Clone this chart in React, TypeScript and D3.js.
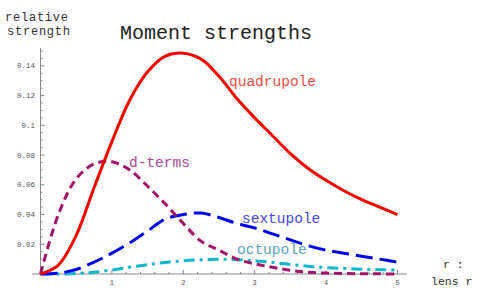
import React from "react";
import * as d3 from "d3";

const rValues = [0, 0.25, 0.5, 0.75, 1, 1.25, 1.5, 1.75, 2, 2.25, 2.5, 2.75, 3, 3.25, 3.5, 3.75, 4, 4.25, 4.5, 4.75, 5];
const quadrupole = [0, 0.006, 0.026, 0.058, 0.089, 0.117, 0.136, 0.1465, 0.1485, 0.1445, 0.133, 0.118, 0.105, 0.093, 0.081, 0.071, 0.063, 0.056, 0.05, 0.045, 0.04];
const dTerms = [0, 0.04, 0.064, 0.074, 0.0755, 0.07, 0.059, 0.047, 0.034, 0.022, 0.016, 0.01, 0.0068, 0.0045, 0.0025, 0.0012, 0.0006, 0.0003, 0.0002, 0.0001, 0];
const sextupole = [0, 0.0005, 0.003, 0.008, 0.014, 0.021, 0.029, 0.037, 0.04, 0.041, 0.038, 0.034, 0.031, 0.027, 0.023, 0.019, 0.016, 0.014, 0.012, 0.01, 0.008];
const octupole = [0, 0, 0.0003, 0.0012, 0.0027, 0.0045, 0.0063, 0.0078, 0.0089, 0.0096, 0.0099, 0.0096, 0.0088, 0.0078, 0.0064, 0.0052, 0.0043, 0.0037, 0.0032, 0.0029, 0.0027];

const xTicks = [1, 2, 3, 4, 5];
const yTicks = [0.02, 0.04, 0.06, 0.08, 0.1, 0.12, 0.14];
const yTickLabels = ["0.02", "0.04", "0.06", "0.08", "0.1", "0.12", "0.14"];

const series = [
  { name: "quadrupole", values: quadrupole, color: "#ff0000", labelColor: "#ff4a4a", dash: "none", lx: 229, ly: 86 },
  { name: "d-terms", values: dTerms, color: "#a3156b", labelColor: "#b0479a", dash: "8,5", lx: 129, ly: 167 },
  { name: "sextupole", values: sextupole, color: "#0000ff", labelColor: "#4848ff", dash: "17,7", lx: 242, ly: 223 },
  { name: "octupole", values: octupole, color: "#10b8cc", labelColor: "#5aa6c4", dash: "11,5,3,5", lx: 237, ly: 254 },
];

const mono = "'Liberation Mono', 'DejaVu Sans Mono', monospace";

export default function App() {
  const x = d3.scaleLinear().domain([0, 5]).range([40.5, 397.5]);
  const y = d3.scaleLinear().domain([0, 0.152]).range([274, 48]);
  const minorX = d3.range(0, 5.001, 0.2).filter((v) => Math.abs(v - Math.round(v)) > 1e-6);
  const minorY = d3.range(0.005, 0.151, 0.005).filter((v) => Math.abs(v / 0.02 - Math.round(v / 0.02)) > 1e-6);

  const line = d3
    .line<number>()
    .x((_, i) => x(rValues[i]))
    .y((d) => y(d))
    .curve(d3.curveCatmullRom.alpha(0.5));

  const axisColor = "#8a8a8a";

  return (
    <svg width={485} height={300} style={{ position: "absolute", left: 0, top: 0, background: "#fff" }}>
      {/* axes */}
      <line x1={32} x2={407} y1={y(0)} y2={y(0)} stroke={axisColor} strokeWidth={1} />
      <line x1={x(0)} x2={x(0)} y1={48} y2={y(0)} stroke={axisColor} strokeWidth={1} />
      {xTicks.map((t) => (
        <g key={"xt" + t}>
          <line x1={x(t)} x2={x(t)} y1={y(0)} y2={y(0) - 4} stroke={axisColor} />
          <text x={x(t)} y={285} fontSize={7} fontFamily={mono} fill="#555" textAnchor="middle">
            {t}
          </text>
        </g>
      ))}
      {minorX.map((t) => (
        <line key={"xm" + t} x1={x(t)} x2={x(t)} y1={y(0)} y2={y(0) - 2} stroke={axisColor} />
      ))}
      {yTicks.map((t, i) => (
        <g key={"yt" + t}>
          <line x1={x(0)} x2={x(0) + 4} y1={y(t)} y2={y(t)} stroke={axisColor} />
          <text x={35} y={y(t) + 2.5} fontSize={7.5} fontFamily={mono} fill="#555" textAnchor="end">
            {yTickLabels[i]}
          </text>
        </g>
      ))}
      {minorY.map((t) => (
        <line key={"ym" + t} x1={x(0)} x2={x(0) + 2} y1={y(t)} y2={y(t)} stroke={axisColor} />
      ))}

      {/* curves */}
      {series
        .slice()
        .reverse()
        .map((s) => (
          <path
            key={s.name}
            d={line(s.values) || ""}
            fill="none"
            stroke={s.color}
            strokeWidth={3}
            strokeDasharray={s.dash}
          />
        ))}

      {/* labels */}
      {series.map((s) => (
        <text key={"l" + s.name} x={s.lx} y={s.ly} fontSize={14.5} fontFamily={mono} fill={s.labelColor}>
          {s.name}
        </text>
      ))}

      <text x={120} y={39} fontSize={20} fontFamily={mono} fill="#222">
        Moment strengths
      </text>
      <text x={5} y={21} fontSize={12} fontFamily={mono} fill="#333" textLength={63}>
        relative
      </text>
      <text x={7} y={35} fontSize={12} fontFamily={mono} fill="#333" textLength={63}>
        strength
      </text>
      <text x={443} y={268} fontSize={11.5} fontFamily={mono} fill="#333">
        r :
      </text>
      <text x={431} y={285} fontSize={11.5} fontFamily={mono} fill="#333">
        lens r
      </text>
    </svg>
  );
}
